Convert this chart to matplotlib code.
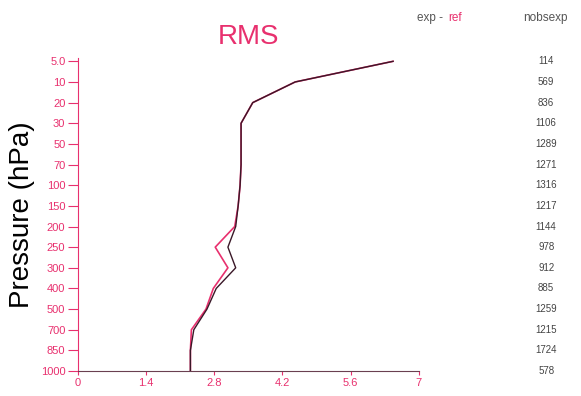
import numpy as np
import matplotlib
matplotlib.use("Agg")
import matplotlib.pyplot as plt

plt.rcParams['font.family'] = ['Liberation Sans', 'DejaVu Sans']

levels = ['5.0', '10', '20', '30', '50', '70', '100', '150', '200', '250',
          '300', '400', '500', '700', '850', '1000']
rms_exp = [6.47, 4.46, 3.59, 3.35, 3.35, 3.35, 3.33, 3.29, 3.24, 3.08,
           3.24, 2.84, 2.65, 2.38, 2.31, 2.31]
rms_ref = [6.47, 4.46, 3.59, 3.35, 3.35, 3.35, 3.33, 3.29, 3.22, 2.82,
           3.08, 2.78, 2.63, 2.33, 2.31, 2.31]
nobs_exp = [114, 569, 836, 1106, 1289, 1271, 1316, 1217, 1144, 978,
            912, 885, 1259, 1215, 1724, 578]
xticks = [0, 1.4, 2.8, 4.2, 5.6, 7]

pink = '#e8306e'
dark = '#3a1828'

fig = plt.figure(figsize=(5.81, 3.96), dpi=100)
ax = fig.add_axes([0.134, 0.063, 0.587, 0.79])

ypos = np.arange(len(levels))
ax.plot(rms_ref, ypos, color=pink, lw=1.2)
ax.plot(rms_exp, ypos, color=dark, lw=1.0)

ax.set_xlim(0, 7)
ax.set_ylim(len(levels) - 1, -0.15)
ax.set_xticks(xticks)
ax.set_xticklabels(['0', '1.4', '2.8', '4.2', '5.6', '7'])
ax.set_yticks(ypos)
ax.set_yticklabels(levels)

for s in ['top', 'right']:
    ax.spines[s].set_visible(False)
ax.spines['left'].set_color(pink)
ax.spines['bottom'].set_color('#6a4050')
ax.tick_params(axis='both', colors=pink, labelsize=8, width=0.8)
ax.tick_params(axis='y', length=7, pad=2)
ax.tick_params(axis='x', length=3, pad=2)

ax.set_title('RMS', color=pink, fontsize=20, pad=10)
ax.set_ylabel('Pressure (hPa)', fontsize=20, labelpad=4)

# right-hand column: exp - ref header and observation counts
fig.text(0.718, 0.955, 'exp - ', color='#555555', fontsize=8.5, ha='left', va='center')
fig.text(0.771, 0.955, 'ref', color=pink, fontsize=8.5, ha='left', va='center')
fig.text(0.938, 0.955, 'nobsexp', color='#555555', fontsize=8.5, ha='center', va='center')

for i, n in enumerate(nobs_exp):
    ax.annotate(str(n), xy=(0.94, i), xycoords=('figure fraction', 'data'),
                ha='center', va='center', fontsize=7, color='#444444',
                annotation_clip=False)

fig.savefig('out.png', dpi=100)
